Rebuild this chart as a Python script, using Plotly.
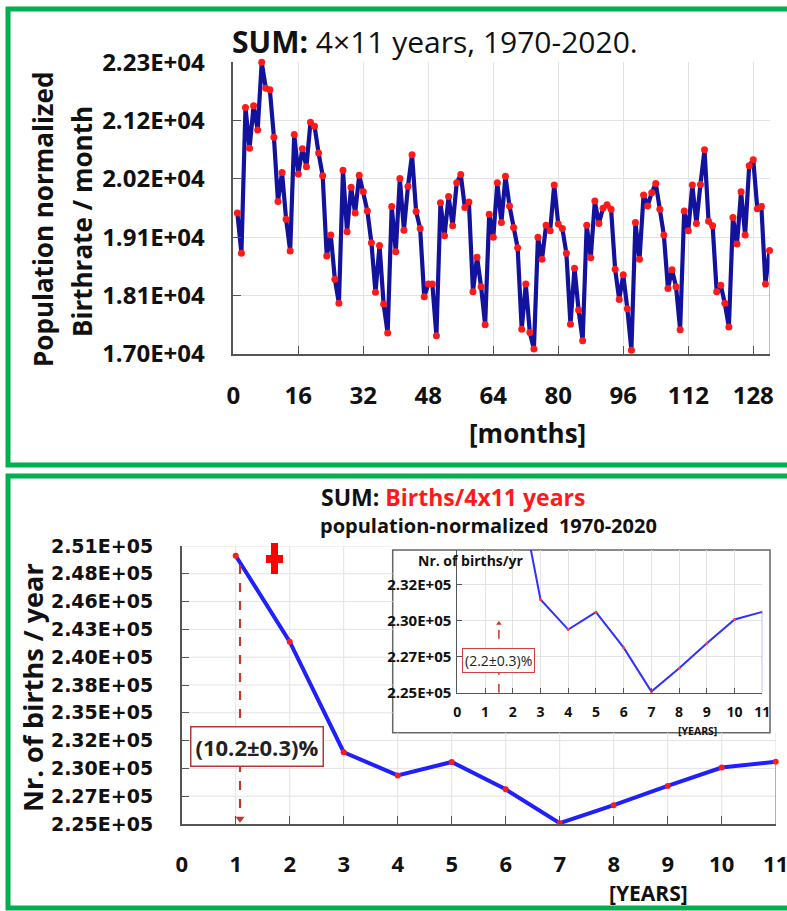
import plotly.graph_objects as go

W, H = 787, 911

# ---------------- data ----------------
months = list(range(1, 133))
monthly_births = [
    19560, 18830, 21480, 20740, 21510, 21070, 22300, 21830, 21800, 20940, 19770, 20300,
    19450, 18870, 20990, 20270, 20730, 20400, 21210, 21140, 20650, 20240, 18780, 19160,
    18360, 17920, 20340, 19220, 20030, 19560, 20250, 19950, 19600, 19020, 18120, 18970,
    17910, 17380, 19680, 18860, 20190, 19250, 20050, 20620, 19590, 19280, 18040, 18270,
    18270, 17330, 19750, 19150, 19860, 19330, 20110, 20260, 19660, 19760, 18130, 18760,
    18220, 17530, 19540, 19120, 20110, 19390, 20230, 19690, 19300, 18930, 17450, 18270,
    17390, 17090, 19120, 18720, 19340, 19240, 20070, 19360, 19280, 18830, 17540, 18560,
    17800, 17240, 19340, 18750, 19780, 19370, 19650, 19710, 19630, 18540, 17990, 18440,
    17820, 17070, 19390, 18720, 19890, 19690, 19930, 20100, 19630, 19160, 18190, 18530,
    18220, 17440, 19600, 19240, 20070, 19370, 20080, 20710, 19410, 19330, 18130, 18250,
    17920, 17490, 19480, 19000, 19950, 19160, 20420, 20530, 19640, 19680, 18270, 18880,
]
top_xticks = [0, 16, 32, 48, 64, 80, 96, 112, 128]
top_yticks = [17000, 18060, 19120, 20180, 21240, 22300]
top_yticktext = ["1.70E+04", "1.81E+04", "1.91E+04", "2.02E+04", "2.12E+04", "2.23E+04"]

years = list(range(1, 12))
yearly_births = [249980, 241850, 231390, 229200, 230470, 227880, 224680, 226380, 228200, 229940, 230490]
bot_xticks = list(range(0, 12))
bot_yticks = [224600, 227230, 229860, 232490, 235120, 237750, 240380, 243010, 245640, 248270, 250900]
bot_yticktext = ["2.25E+05", "2.27E+05", "2.30E+05", "2.32E+05", "2.35E+05", "2.38E+05",
                 "2.40E+05", "2.43E+05", "2.46E+05", "2.48E+05", "2.51E+05"]
inset_yticks = [224600, 227230, 229860, 232490]
inset_yticktext = ["2.25E+05", "2.27E+05", "2.30E+05", "2.32E+05"]

main_pct_label = "(10.2±0.3)%"
inset_pct_label = "(2.2±0.3)%"

# ---------------- helpers (pixel -> paper) ----------------
def px(x):
    return x / W

def py(y):
    return 1 - y / H

FONT = "Open Sans"
INK = "#111111"
GRID = "#e3e3e3"
AXIS = "#555555"
GREEN = "#00b050"
DARKRED = "#c0392b"

fig = go.Figure()

# top chart
fig.add_trace(go.Scatter(
    x=months, y=monthly_births, mode="lines+markers",
    line=dict(color="#12129c", width=4.2),
    marker=dict(color="#ff1a1a", size=7),
    xaxis="x", yaxis="y", cliponaxis=False, showlegend=False))
fig.add_trace(go.Scatter(
    x=[months[-1], months[-1]], y=[monthly_births[-1], top_yticks[0]], mode="lines",
    line=dict(color="#7070ff", width=1), xaxis="x", yaxis="y", showlegend=False))

# bottom main chart
fig.add_trace(go.Scatter(
    x=years, y=yearly_births, mode="lines+markers",
    line=dict(color="#1f1fff", width=4),
    marker=dict(color="#ff1a1a", size=6),
    xaxis="x2", yaxis="y2", cliponaxis=False, showlegend=False))
fig.add_trace(go.Scatter(
    x=[years[-1], years[-1]], y=[yearly_births[-1], bot_yticks[0]], mode="lines",
    line=dict(color="#7070ff", width=1), xaxis="x2", yaxis="y2", showlegend=False))

# dashed arrow (main)
arrow_x = 1.08
fig.add_trace(go.Scatter(
    x=[arrow_x, arrow_x], y=[249100, 225000], mode="lines",
    line=dict(color=DARKRED, width=2.2, dash="dash"),
    xaxis="x2", yaxis="y2", showlegend=False))
fig.add_trace(go.Scatter(
    x=[arrow_x], y=[225100], mode="markers",
    marker=dict(symbol="triangle-down", size=8, color=DARKRED),
    xaxis="x2", yaxis="y2", cliponaxis=False, showlegend=False))

# inset
fig.add_trace(go.Scatter(
    x=years, y=yearly_births, mode="lines+markers",
    line=dict(color="#3030ff", width=2),
    marker=dict(color="#ff4040", size=3),
    xaxis="x3", yaxis="y3", showlegend=False))
fig.add_trace(go.Scatter(
    x=[years[-1], years[-1]], y=[yearly_births[-1], inset_yticks[0]], mode="lines",
    line=dict(color="#7070ff", width=1), xaxis="x3", yaxis="y3", showlegend=False))
fig.add_trace(go.Scatter(
    x=[1.5, 1.5], y=[224600, 229500], mode="lines",
    line=dict(color=DARKRED, width=1.5, dash="dash"),
    xaxis="x3", yaxis="y3", showlegend=False))
fig.add_trace(go.Scatter(
    x=[1.5], y=[229650], mode="markers",
    marker=dict(symbol="triangle-up", size=5, color=DARKRED),
    xaxis="x3", yaxis="y3", cliponaxis=False, showlegend=False))

tickfont_big = dict(family=FONT, size=24, color=INK, weight="bold")
tickfont_botx = dict(family=FONT, size=22, color=INK, weight="bold")
tickfont_boty = dict(family="DejaVu Sans", size=19, color=INK, weight="bold")

axis_common = dict(showline=True, linecolor=AXIS, linewidth=1.5, ticks="inside",
                   ticklen=8, tickcolor=AXIS, zeroline=False, showgrid=True,
                   gridcolor=GRID, gridwidth=1, mirror=False, automargin=False,
                   ticklabeloverflow="allow")

fig.update_layout(
    width=W, height=H,
    margin=dict(l=0, r=0, t=0, b=0, pad=0, autoexpand=False),
    paper_bgcolor="white", plot_bgcolor="rgba(0,0,0,0)",
    font=dict(family=FONT, color=INK),
    showlegend=False,
    xaxis=dict(domain=[px(233.3), px(769.5)], range=[0, 132], tickvals=top_xticks,
               tickfont=tickfont_big, ticklabelstandoff=19, anchor="y", **axis_common),
    yaxis=dict(domain=[py(354), py(62.3)], range=[17000, 22300], tickvals=top_yticks,
               ticktext=top_yticktext, tickfont=tickfont_big, ticklabelstandoff=22,
               anchor="x", **axis_common),
    xaxis2=dict(domain=[px(181.7), px(775.7)], range=[0, 11], tickvals=bot_xticks,
                tickfont=tickfont_botx, ticklabelstandoff=20, anchor="y2",
                **{**axis_common, "showgrid": False}),
    yaxis2=dict(domain=[py(824), py(546)], range=[224600, 250900], tickvals=bot_yticks,
                ticktext=bot_yticktext, tickfont=tickfont_boty, ticklabelstandoff=23,
                anchor="x2", **{**axis_common, "showgrid": False}),
    xaxis3=dict(domain=[px(457.3), px(762.3)], range=[0, 11], tickvals=bot_xticks,
                tickfont=dict(family=FONT, size=14, color=INK, weight="bold"),
                ticklabelstandoff=6, anchor="y3",
                **{**axis_common, "ticklen": 5, "linewidth": 1}),
    yaxis3=dict(domain=[py(692.7), py(550)], range=[224600, 235000], tickvals=inset_yticks,
                ticktext=inset_yticktext,
                tickfont=dict(family=FONT, size=15, color=INK, weight="bold"),
                ticklabelstandoff=2, anchor="x3",
                **{**axis_common, "ticklen": 5, "linewidth": 1}),
)

shapes = []
# green panel frames
shapes.append(dict(type="rect", xref="paper", yref="paper", x0=px(8), x1=px(795),
                   y0=py(465), y1=py(9), line=dict(color=GREEN, width=5), layer="below"))
shapes.append(dict(type="rect", xref="paper", yref="paper", x0=px(8), x1=px(795),
                   y0=py(908), y1=py(476), line=dict(color=GREEN, width=5), layer="below"))
# inset white box
inset_box = dict(x0=392.7, x1=770, y0=550, y1=732.7)
inset_left_year = (inset_box["x0"] - 181.7) / 54.0
inset_bottom_val = 224600 + (824 - inset_box["y1"]) / 278.0 * (250900 - 224600)
# main gridlines drawn around the inset
for v in bot_yticks[1:]:
    x1 = inset_left_year if v > inset_bottom_val else 11
    shapes.append(dict(type="line", xref="x2", yref="y2", x0=0, x1=x1, y0=v, y1=v,
                       line=dict(color=GRID, width=1), layer="below"))
for v in bot_xticks[1:]:
    y1 = inset_bottom_val if v > inset_left_year else 250900
    shapes.append(dict(type="line", xref="x2", yref="y2", x0=v, x1=v, y0=224600, y1=y1,
                       line=dict(color=GRID, width=1), layer="below"))
shapes.append(dict(type="rect", xref="paper", yref="paper",
                   x0=px(inset_box["x0"]), x1=px(inset_box["x1"]),
                   y0=py(inset_box["y1"]), y1=py(inset_box["y0"]),
                   line=dict(color="#666666", width=1.5), fillcolor="white", layer="below"))
# red cross symbol
shapes.append(dict(type="rect", xref="paper", yref="paper", x0=px(271), x1=px(278),
                   y0=py(574), y1=py(543), line=dict(width=0), fillcolor="#ff0000"))
shapes.append(dict(type="rect", xref="paper", yref="paper", x0=px(266), x1=px(283),
                   y0=py(563), y1=py(555), line=dict(width=0), fillcolor="#ff0000"))
fig.update_layout(shapes=shapes)

ann = []
def label(text, x, y, size, bold=True, angle=0, color=INK, xanchor="center"):
    ann.append(dict(text=text, x=px(x), y=py(y), xref="paper", yref="paper",
                    showarrow=False, textangle=angle, xanchor=xanchor, yanchor="middle",
                    font=dict(family=FONT, size=size, color=color,
                              weight="bold" if bold else "normal")))

label("<b>SUM:</b> 4×11 years, 1970-2020.", 435, 42, 30, bold=False)
label("Population normalized", 43, 220, 26, angle=-90)
label("Birthrate / month", 82, 222, 26, angle=-90)
label("[months]", 527, 433, 26)
label("SUM: <span style='color:#ff1a1a'>Births/4x11 years</span>", 453, 497, 23)
label("population-normalized  1970-2020", 488, 525, 20)
label("Nr. of births / year", 32, 688, 27, angle=-90)
label("[YEARS]", 648, 893, 21)
label("Nr. of births/yr", 471, 560, 14)
label("[YEARS]", 697, 731, 10.5)

ann.append(dict(text="<b>" + main_pct_label + "</b>", x=1.39, y=231900, xref="x2", yref="y2",
                showarrow=False, bgcolor="white", bordercolor="#b03a3a", borderwidth=1.5,
                borderpad=4, font=dict(family=FONT, size=22, color="#222222")))
ann.append(dict(text=inset_pct_label, x=1.5, y=226950, xref="x3", yref="y3",
                showarrow=False, bgcolor="white", bordercolor="#d04040", borderwidth=1,
                borderpad=2, font=dict(family=FONT, size=14, color="#222222")))
fig.update_layout(annotations=ann)

fig.write_html("out.html", config={"displayModeBar": False},
               post_script="document.body.style.margin='0';document.body.style.overflow='hidden';")
